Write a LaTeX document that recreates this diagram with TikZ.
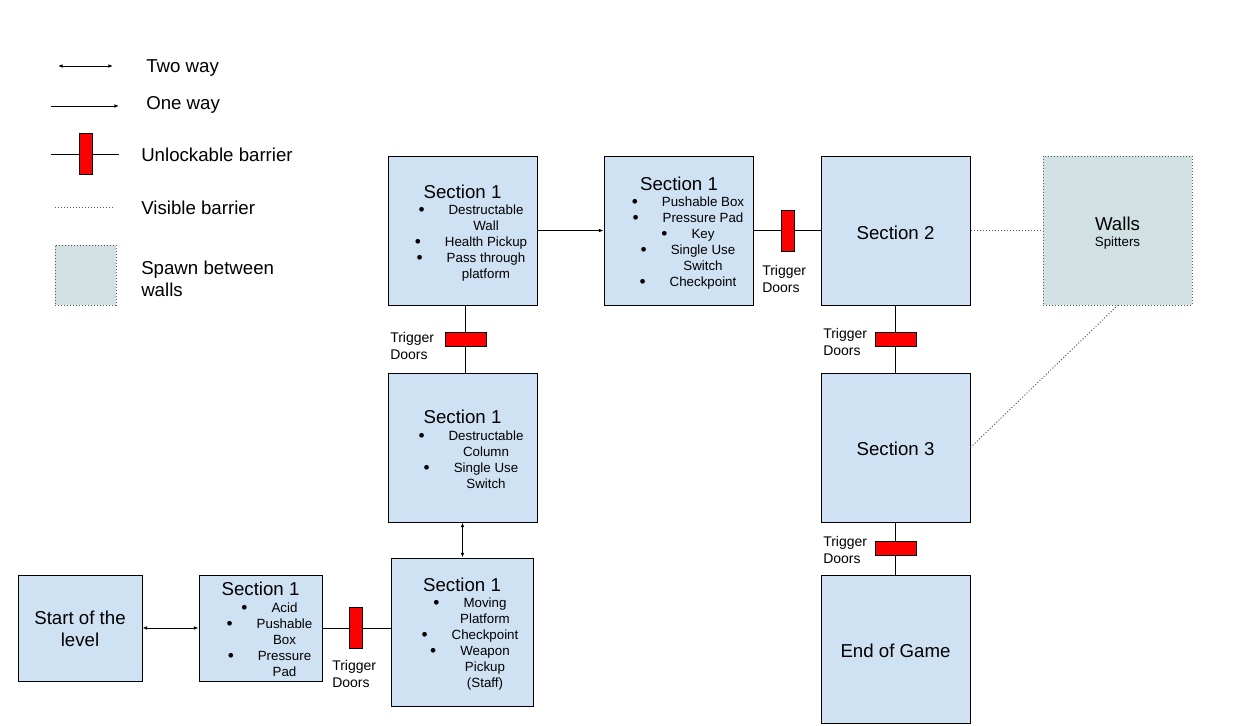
\documentclass[tikz,border=0pt]{standalone}
\usepackage{fontspec}
\setmainfont{Liberation Sans}
\usetikzlibrary{arrows.meta}

\definecolor{roomblue}{HTML}{CFE2F3}
\definecolor{spawngrey}{HTML}{D0E0E3}
\definecolor{doorred}{HTML}{FF0000}

\newcommand{\bigtext}{\fontsize{14pt}{16.5pt}\selectfont}
\newcommand{\smalltext}{\fontsize{10pt}{12pt}\selectfont}
\newcommand{\doortext}{\fontsize{10.5pt}{12.75pt}\selectfont}
\newcommand{\bul}{\llap{\raisebox{-0.6pt}{\fontsize{13pt}{0pt}\selectfont\textbullet}\hspace{18pt}}}
\newcommand{\dropby}[2]{\raisebox{-#1}[\height][\depth]{#2}}

\tikzset{
  room/.style 2 args={draw, line width=0.75pt, fill=roomblue, inner sep=0pt,
    minimum width=#1*0.75pt, minimum height=#2*0.75pt, font=\bigtext, align=center},
  spawn/.style 2 args={room={#1}{#2}, fill=spawngrey, draw=black!65,
    dash pattern=on 0.75pt off 1.5pt},
  vdoor/.style={draw, line width=0.75pt, fill=doorred, inner sep=0pt,
    minimum width=9.75pt, minimum height=30.75pt},
  hdoor/.style={draw, line width=0.75pt, fill=doorred, inner sep=0pt,
    minimum width=30.75pt, minimum height=10.5pt},
  link/.style={line width=0.75pt},
  oneway/.style={link, -{Latex[length=3.5pt,width=2.8pt]}},
  twoway/.style={link, {Latex[length=3.5pt,width=2.8pt]}-{Latex[length=3.5pt,width=2.8pt]}},
  seen/.style={line width=0.75pt, black!65, dash pattern=on 0.75pt off 1.5pt},
  lbl/.style={anchor=west, inner sep=0pt, font=\bigtext, align=left},
  doorlbl/.style={anchor=west, inner sep=0pt, font=\doortext, align=left},
  ttl/.style={inner sep=0pt, font=\bigtext},
  items/.style={inner sep=0pt, font=\smalltext, align=center}
}

\begin{document}
\begin{tikzpicture}[x=0.75pt, y=-0.75pt]
    \useasboundingbox (0,0) rectangle (1255,725);

    % Legend
    \coordinate (twoL) at (58,66);
    \coordinate (twoR) at (113,66);
    \draw[twoway] (twoL) -- (twoR);
    \node[lbl] (twotxt) at (146,68.5) {Two way};

    \coordinate (oneL) at (51,106);
    \coordinate (oneR) at (119,106);
    \draw[oneway] (oneL) -- (oneR);
    \node[lbl] (onetxt) at (146,104.5) {One way};

    \coordinate (keyL) at (51,154);
    \coordinate (keyR) at (119,154);
    \node[vdoor] (keydoor) at (85.5,154) {};
    \draw[link] (keyL) -- (keydoor.west);
    \draw[link] (keydoor.east) -- (keyR);
    \node[lbl] (keytxt) at (141,155) {Unlockable barrier};

    \coordinate (seenL) at (55,207);
    \coordinate (seenR) at (113,207);
    \draw[seen] (seenL) -- (seenR);
    \node[lbl] (seentxt) at (141,208) {Visible barrier};

    \node[spawn={61}{60}] (spawnkey) at (85.5,275) {};
    \node[lbl] (spawntxt) at (141,279) {Spawn between\\walls};

    % Rooms
    \node[room={124}{106}] (start) at (80,628) {\dropby{0.75pt}{Start of the}\\\dropby{0.75pt}{level}};
    \node[room={123}{106}] (acid) at (260.5,628) {};
    \node[room={142}{148}] (moving) at (462,632) {};
    \node[room={149}{149}] (column) at (462.5,447.5) {};
    \node[room={149}{149}] (wall) at (462.5,230.5) {};
    \node[room={149}{149}] (pushbox) at (678.5,230.5) {};
    \node[room={149}{149}] (sec2) at (895.5,230.5) {\dropby{1.5pt}{Section 2}};
    \node[room={149}{149}] (sec3) at (895.5,447.5) {\dropby{0.75pt}{Section 3}};
    \node[room={149}{148}] (endgame) at (895.5,649) {\dropby{1.5pt}{End of Game}};
    \node[spawn={149}{149}] (walls) at (1117.5,230.5) {\dropby{2.25pt}{Walls}\\[-4.5pt]\smalltext\dropby{2.25pt}{Spitters}};

    % Room contents
    \node[ttl] (wallttl) at (462.5,192) {Section 1};
    \node[items] (walllist) at (486,243) {\bul Destructable\\Wall\\\bul Health Pickup\\\bul Pass through\\platform};

    \node[ttl] (pushttl) at (679,184) {Section 1};
    \node[items] (pushlist) at (703,243) {\bul Pushable Box\\\bul Pressure Pad\\\bul Key\\\bul Single Use\\Switch\\\bul Checkpoint};

    \node[ttl] (colttl) at (462.5,417) {Section 1};
    \node[items] (collist) at (486,460) {\bul Destructable\\Column\\\bul Single Use\\Switch};

    \node[ttl] (movttl) at (462,585) {Section 1};
    \node[items] (movlist) at (485,644) {\bul Moving\\Platform\\\bul Checkpoint\\\bul Weapon\\Pickup\\(Staff)};

    \node[ttl] (acidttl) at (260.5,589) {Section 1};
    \node[items] (acidlist) at (284.5,640) {\bul Acid\\\bul Pushable\\Box\\\bul Pressure\\Pad};

    % Connections
    \draw[twoway] (start.east) -- (acid.west);

    \node[vdoor] (door5) at (355.5,628) {};
    \draw[link] (acid.east) -- (door5.west);
    \draw[link] (door5.east) -- (door5.east -| moving.west);
    \node[doorlbl] (door5txt) at (332,673.5) {Trigger\\Doors};

    \draw[twoway] (column.south) -- (column.south |- moving.north);

    \node[hdoor] (door2) at (465.5,339) {};
    \draw[link] (door2.north |- wall.south) -- (door2.north);
    \draw[link] (door2.south) -- (door2.south |- column.north);
    \node[doorlbl] (door2txt) at (390,345.5) {Trigger\\Doors};

    \draw[oneway] (wall.east) -- (pushbox.west);

    \node[vdoor] (door1) at (787.5,230.5) {};
    \draw[link] (pushbox.east) -- (door1.west);
    \draw[link] (door1.east) -- (sec2.west);
    \node[doorlbl] (door1txt) at (762,278.5) {Trigger\\Doors};

    \node[hdoor] (door3) at (895.5,339) {};
    \draw[link] (sec2.south) -- (door3.north);
    \draw[link] (door3.south) -- (sec3.north);
    \node[doorlbl] (door3txt) at (823,341.5) {Trigger\\Doors};

    \node[hdoor] (door4) at (895.5,548) {};
    \draw[link] (sec3.south) -- (door4.north);
    \draw[link] (door4.south) -- (endgame.north);
    \node[doorlbl] (door4txt) at (823,549.5) {Trigger\\Doors};

    % Visible barriers
    \draw[seen] (sec2.east) -- (walls.west);
    \draw[seen] (sec3.east) -- (walls.south);
\end{tikzpicture}
\end{document}
